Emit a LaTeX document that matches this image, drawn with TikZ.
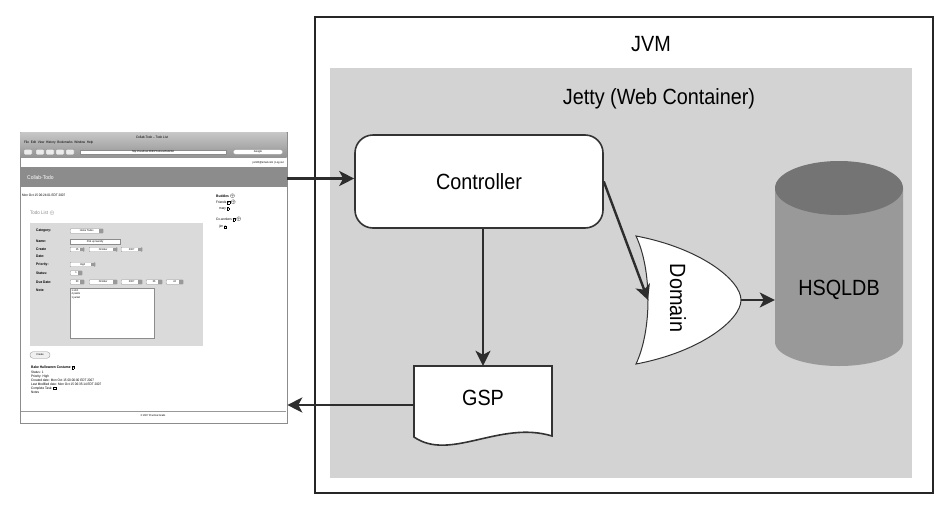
\documentclass[tikz,border=0pt]{standalone}
\usepackage{fontspec}
\setmainfont{Liberation Sans}[FakeStretch=0.9]
\usepackage{tikz}
\usetikzlibrary{arrows.meta,positioning,calc}
\definecolor{jettygray}{RGB}{211,211,211}
\definecolor{dbbody}{RGB}{153,153,153}
\definecolor{dbtop}{RGB}{116,116,116}
\definecolor{arrowgray}{RGB}{45,45,45}
\definecolor{formgray}{RGB}{218,218,218}
\setlength{\fboxsep}{0.3pt}
\setlength{\fboxrule}{0.25pt}

\begin{document}
\begin{tikzpicture}[x=1pt, y=-1pt,
    big/.style={font=\fontsize{22}{24}\selectfont, inner sep=0pt},
    outline/.style={draw=black!80, line width=1.6pt},
    arr/.style={-{Stealth[length=15pt,width=15pt,inset=4pt]}, line width=2.4pt, arrowgray},
    tiny/.style={font=\fontsize{3.4}{4}\selectfont, inner sep=0pt},
    tinyb/.style={font=\fontsize{3.6}{4.2}\selectfont\bfseries, inner sep=0pt},
    ctl/.style={draw=black!45, line width=0.3pt, fill=white, rounded corners=0.8pt, inner sep=0pt, minimum height=4.6pt}
]
\useasboundingbox (0,0) rectangle (946,512);

% containers
\node[draw=black!85, line width=1.2pt, minimum width=618pt, minimum height=476pt, inner sep=0pt] (jvm) at (624,255) {};
\node[fill=jettygray, minimum width=582pt, minimum height=410pt, inner sep=0pt] (jetty) at (621,273) {};
\node[big] (jvmlbl) at (651,44) {JVM};
\node[big] (jettylbl) at (659,99) {Jetty (Web Container)};

% controller and view
\node[big, outline, fill=white, rounded corners=18pt, minimum width=248pt, minimum height=93pt] (ctrl) at (479,181.5) {Controller};
\draw[outline, fill=white] (414,366) -- (552,366) -- (552,436) .. controls (500,420) and (450,462) .. (414,437) -- cycle;
\node[big, minimum width=138pt, minimum height=64pt] (gsp) at (483,398) {GSP};

% domain
\draw[draw=black!80, line width=1pt, fill=white] (636,236) .. controls (700,248) and (741,280) .. (741,300) .. controls (741,320) and (700,352) .. (636,364) .. controls (652,330) and (652,270) .. cycle;
\coordinate (dom-in) at (648,300);
\coordinate (dom-out) at (741,300);
\node[big, rotate=-90] (domain) at (678,298) {Domain};

% database
\fill[dbbody] (775,188) -- (775,342) .. controls (775,355.3) and (803.7,366) .. (839,366) .. controls (874.3,366) and (903,355.3) .. (903,342) -- (903,188) -- cycle;
\fill[dbtop] (839,188) ellipse [x radius=64, y radius=27];
\node[big, minimum width=128pt] (db) at (839,290) {HSQLDB};

% browser screenshot
\node[draw=black!45, line width=0.6pt, fill=white, minimum width=267pt, minimum height=291pt, inner sep=0pt] (browser) at (153.5,277.5) {};
\shade[top color=black!22, bottom color=black!42] (20.3,132.3) rectangle (286.7,157);
\node[tiny] (btitle) at (152,137) {Collab-Todo -- Todo List};
\node[tiny, anchor=west] (bmenu) at (24,143) {File\enspace Edit\enspace View\enspace History\enspace Bookmarks\enspace Window\enspace Help};
\foreach \bx [count=\i] in {28,40,50,60,70}
  \node[ctl, minimum width=8pt, minimum height=5.5pt, fill=black!8] (bbtn\i) at (\bx,152) {};
\node[ctl, rounded corners=0pt, minimum width=146pt, anchor=west, font=\fontsize{2.8}{3.2}\selectfont] (burl) at (80,152) {http://localhost:8080/TodoList/todo/list\hspace{88pt}};
\node[ctl, rounded corners=2.5pt, minimum width=50pt, font=\fontsize{2.8}{3.2}\selectfont] (bsearch) at (258,152) {Google\hspace{25pt}};
\node[tiny, anchor=east, font=\fontsize{2.8}{3.2}\selectfont] (blogin) at (284,163) {jsmith@email.com | Log out};
\fill[black!45] (20.3,167) rectangle (286.7,187);
\node[anchor=west, text=white, font=\fontsize{5.5}{6}\selectfont, inner sep=0pt] (bhead) at (27,178) {Collab-Todo};
\node[tiny, anchor=west] (bdate) at (22,195) {Mon Oct 15 06:24:01 EDT 2007};
\node[anchor=west, text=black!45, font=\fontsize{5}{6}\selectfont, inner sep=0pt] (blist) at (30,213) {Todo List $\oplus$};

% buddies
\node[tinyb, anchor=west] (bbud) at (216,196) {Buddies $\oplus$};
\node[tiny, anchor=west] (bfr) at (216,202) {Friends \fbox{x} $\oplus$};
\node[tiny, anchor=west] (bmary) at (219,209) {mary \fbox{x}};
\node[tiny, anchor=west] (bco) at (216,219) {Co-workers \fbox{x} $\oplus$};
\node[tiny, anchor=west] (bjim) at (219,227) {jim \fbox{x}};

% form
\fill[formgray] (30,223) rectangle (203,346);
\foreach \ly/\lt [count=\i] in {231/Category:, 241.5/Name:, 249.5/Create, 256/Date:, 264.5/Priority:, 273/Status:, 282/Due Date:, 290/Note:}
  \node[tinyb, anchor=west] (flbl\i) at (36,\ly) {\lt};
\foreach \sx/\sw/\sy/\st [count=\i] in {70/33/231/Home Todos, 70/14/249.5/15, 89/28/249.5/October, 121/21/249.5/2007, 70/25/264.5/High, 70/12/273/1, 70/14/282/30, 89/28/282/October, 121/21/282/2007, 146/16/282/06, 166/17/282/24}{
  \node[ctl, minimum width=\sw pt, anchor=west, font=\fontsize{2.7}{3}\selectfont] (sel\i) at (\sx,\sy) {\st\hspace{4pt}};
  \fill[black!40] ($(sel\i.east)+(-4.2,-1.7)$) rectangle ($(sel\i.east)+(-0.7,1.7)$);
}
\node[ctl, rounded corners=0pt, minimum width=50pt, anchor=west, font=\fontsize{2.7}{3}\selectfont] (fname) at (70,241.5) {Pick up laundry\hspace{26pt}};
\node[ctl, rounded corners=0pt, minimum width=84pt, minimum height=50pt, anchor=north west] (fnote) at (70,288) {};
\node[tiny, anchor=north west, align=left, font=\fontsize{2.7}{3.2}\selectfont] (fnotetxt) at (71.5,289.5) {1 shirt\\4 paints\\1 jacket};
\node[ctl, rounded corners=3pt, minimum width=20pt, minimum height=6.5pt, fill=black!6, font=\fontsize{2.7}{3}\selectfont] (fcreate) at (40,355) {Create};

% todo details
\node[tinyb, anchor=west] (tname) at (31,367.5) {Bake Halloween Costume \fbox{x}};
\node[tiny, anchor=north west, align=left] (tinfo) at (31,370.5) {Status: 1\\Priority: High\\Created date: Mon Oct 15 00:00:00 EDT 2007\\Last Modified date: Mon Oct 15 06:35:14 EDT 2007\\Complete Task: \fbox{\phantom{x}}\\Notes};
\draw[black!40, line width=0.5pt] (21,411.5) -- (286,411.5);
\node[tiny, font=\fontsize{2.7}{3}\selectfont] (bfoot) at (153,415.5) {\copyright{} 2007 Practical Grails};

% connectors
\draw[arr] ([yshift=3pt]browser.east |- ctrl.west) -- ([yshift=3pt]ctrl.west);
\draw[arr] (gsp.north |- ctrl.south) -- (gsp.north);
\draw[arr] (ctrl.east) -- (dom-in);
\draw[arr] (dom-out) -- (db.west |- dom-out);
\draw[arr] ([yshift=-7pt]gsp.west) -- ([yshift=-7pt]gsp.west -| browser.east);
\end{tikzpicture}
\end{document}
